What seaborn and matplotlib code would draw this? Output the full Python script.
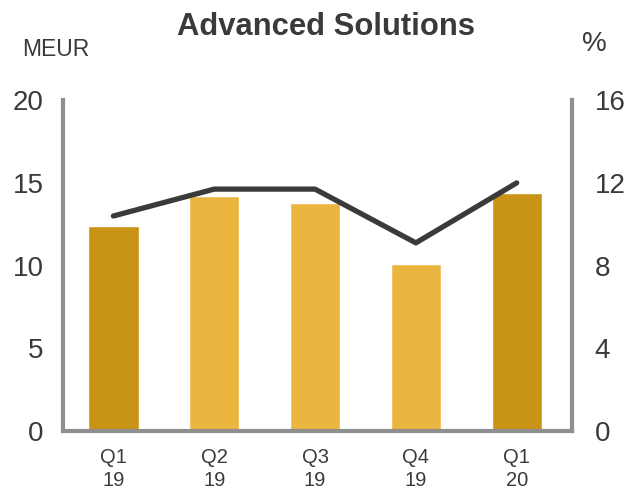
import matplotlib
matplotlib.use("Agg")
import matplotlib.pyplot as plt
import seaborn as sns
import numpy as np

categories = ["Q1\n19", "Q2\n19", "Q3\n19", "Q4\n19", "Q1\n20"]
sales_meur = [12.4, 14.2, 13.8, 10.1, 14.4]
margin_pct = [10.4, 11.7, 11.7, 9.1, 12.0]
bar_colors = ["#C99415", "#EBB640", "#EBB640", "#EBB640", "#C99415"]
left_ticks = [0, 5, 10, 15, 20]
right_ticks = [0, 4, 8, 12, 16]

sns.set_theme(style="white")
plt.rcParams["font.family"] = ["Liberation Sans", "DejaVu Sans"]

text_col = "#3a3a3a"
spine_col = "#8f8f8f"

fig = plt.figure(figsize=(6.26, 4.91), dpi=100)
ax = fig.add_axes([0.1006, 0.122, 0.8134, 0.674])

sns.barplot(x=categories, y=sales_meur, hue=categories, palette=bar_colors,
            legend=False, width=0.5, saturation=1, ax=ax, order=categories)
ax.set_xlim(-0.5, 4.55)
ax.set_ylim(0, 20)
ax.set_yticks(left_ticks)
ax.set_ylabel("")
ax.set_xlabel("")

ax2 = ax.twinx()
sns.lineplot(x=np.arange(len(categories)), y=margin_pct, color="#3a3a3a",
             linewidth=3.8, ax=ax2, solid_capstyle="round")
ax2.set_ylim(0, 16)
ax2.set_yticks(right_ticks)
ax2.set_ylabel("")

for a in (ax, ax2):
    a.spines["top"].set_visible(False)
    for side in ("left", "right", "bottom"):
        a.spines[side].set_color(spine_col)
        a.spines[side].set_linewidth(3)
    a.tick_params(length=0, colors=text_col)
    a.grid(False)

ax.spines["right"].set_visible(False)
ax2.spines["left"].set_visible(False)
ax2.spines["bottom"].set_visible(False)

ax.tick_params(axis="y", labelsize=20, pad=14)
ax.tick_params(axis="x", labelsize=14.5, pad=12)
ax2.tick_params(axis="y", labelsize=20, pad=16)
for lbl in ax.get_xticklabels():
    lbl.set_linespacing(1.3)

fig.text(0.521, 0.946, "Advanced Solutions", ha="center", va="center",
         fontsize=22.3, fontweight="bold", color=text_col)
fig.text(0.035, 0.900, "MEUR", ha="left", va="center", fontsize=16.5, color=text_col)
fig.text(0.930, 0.910, "%", ha="left", va="center", fontsize=20, color=text_col)

fig.savefig("out.png", dpi=100)
